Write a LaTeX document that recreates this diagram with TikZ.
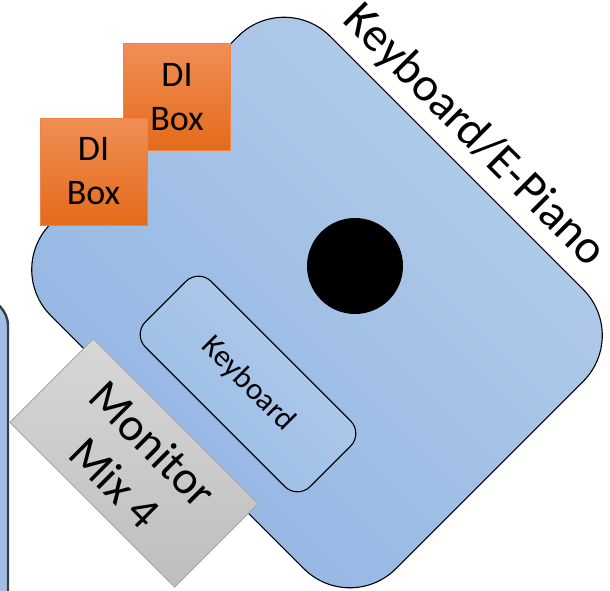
\documentclass[tikz,border=0pt]{standalone}
\usepackage{fontspec}
\setmainfont{Carlito}
\definecolor{bluetop}{RGB}{182,205,234}
\definecolor{bluebot}{RGB}{143,180,227}
\definecolor{keytop}{RGB}{180,205,235}
\definecolor{keybot}{RGB}{150,186,229}
\definecolor{ditop}{RGB}{241,142,86}
\definecolor{dimid}{RGB}{243,125,42}
\definecolor{dibot}{RGB}{227,107,26}
\definecolor{diline}{RGB}{240,130,70}
\definecolor{mixtop}{RGB}{215,215,215}
\definecolor{mixbot}{RGB}{190,190,190}
\definecolor{mixline}{RGB}{165,165,165}
\definecolor{sideblue}{RGB}{160,190,230}
\definecolor{sideline}{RGB}{60,60,65}

\begin{document}
\begin{tikzpicture}[x=1pt, y=-1pt,
  board/.style={draw=black, line width=1.1pt, rounded corners=65pt, rotate=-45,
    top color=bluetop, bottom color=bluebot, shading angle=-45,
    minimum width=488pt, minimum height=395pt},
  keys/.style={draw=black, line width=1.1pt, rounded corners=18pt, rotate=-45,
    top color=keytop, bottom color=keybot, shading angle=-45,
    minimum width=233pt, minimum height=93pt, font=\fontsize{31}{37}\selectfont},
  dibox/.style={draw=diline, line width=0.8pt, top color=ditop, middle color=dimid,
    bottom color=dibot, minimum size=107pt, inner sep=0pt, align=center,
    font=\fontsize{36}{44}\selectfont},
  mixbox/.style={draw=mixline, line width=0.8pt, rotate=-45, top color=mixtop,
    bottom color=mixbot, minimum width=233pt, minimum height=118pt, align=center,
    font=\fontsize{47}{54}\selectfont}
]
\useasboundingbox (0,0) rectangle (610,590);
\clip (0,0) rectangle (610,590);

% neighbour on the left edge
\draw[draw=sideline, line width=2.4pt, fill=sideblue, rounded corners=28pt]
  (-80,298) rectangle (8,660);

\node[board] (piano) at (317,302.5) {};
\node[circle, fill=black, minimum size=96pt] (knob) at (355,266) {};
\node[keys] (keys) at (248,384) {Keyboard};
\node[rotate=-45, font=\fontsize{48}{58}\selectfont] (pianolabel) at (474,136) {Keyboard/E-Piano};

\node[mixbox] (mix) at (134,463) {Monitor\\Mix 4};

\node[dibox] (di2) at (177,97) {DI\\Box};
\node[dibox] (di1) at (93.5,171.5) {DI\\Box};
\end{tikzpicture}
\end{document}
